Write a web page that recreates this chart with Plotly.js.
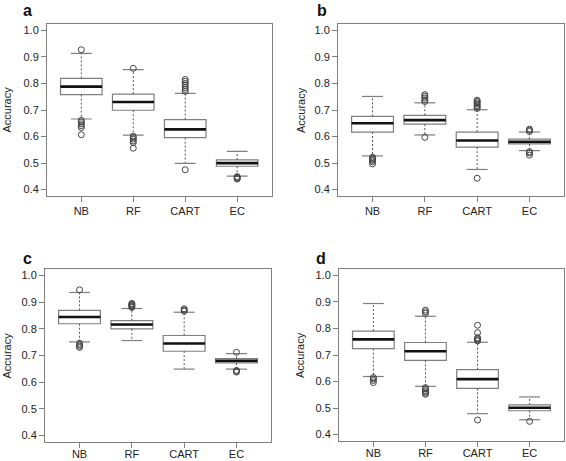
<!DOCTYPE html>
<html>
<head>
<meta charset="utf-8">
<script src="https://cdn.plot.ly/plotly-3.0.1.min.js"></script>
<style>html,body{margin:0;padding:0;background:#fff;}#chart{width:566px;height:461px;}</style>
</head>
<body>
<div id="chart"></div>
<script>
const categories = ['NB', 'RF', 'CART', 'EC'];
const positions = [1, 2, 3, 4];
const yTicks = [0.4, 0.5, 0.6, 0.7, 0.8, 0.9, 1.0];

// Panel a
const aLower  = [0.666, 0.605, 0.499, 0.451];
const aQ1     = [0.758, 0.699, 0.596, 0.488];
const aMedian = [0.788, 0.730, 0.627, 0.500];
const aQ3     = [0.819, 0.760, 0.664, 0.512];
const aUpper  = [0.913, 0.852, 0.763, 0.544];
const aOutliers = [
  [0.927, 0.661, 0.655, 0.648, 0.641, 0.634, 0.607],
  [0.857, 0.601, 0.596, 0.590, 0.583, 0.577, 0.556],
  [0.815, 0.808, 0.800, 0.793, 0.785, 0.778, 0.770, 0.475],
  [0.449, 0.446, 0.443, 0.440]
];

// Panel b
const bLower  = [0.527, 0.606, 0.476, 0.547];
const bQ1     = [0.617, 0.647, 0.560, 0.572];
const bMedian = [0.650, 0.662, 0.585, 0.580];
const bQ3     = [0.676, 0.680, 0.617, 0.590];
const bUpper  = [0.751, 0.727, 0.701, 0.617];
const bOutliers = [
  [0.522, 0.518, 0.514, 0.510, 0.505, 0.497],
  [0.758, 0.752, 0.745, 0.738, 0.732, 0.597],
  [0.737, 0.732, 0.727, 0.722, 0.716, 0.711, 0.706, 0.443],
  [0.628, 0.624, 0.619, 0.543, 0.538, 0.530]
];

// Panel c
const cLower  = [0.751, 0.756, 0.649, 0.649];
const cQ1     = [0.819, 0.800, 0.716, 0.672];
const cMedian = [0.844, 0.816, 0.745, 0.680];
const cQ3     = [0.869, 0.831, 0.775, 0.688];
const cUpper  = [0.936, 0.876, 0.862, 0.707];
const cOutliers = [
  [0.946, 0.746, 0.740, 0.735, 0.730],
  [0.895, 0.892, 0.889, 0.886, 0.883, 0.880],
  [0.875, 0.870, 0.866],
  [0.712, 0.644, 0.641, 0.638]
];

// Panel d
const dLower  = [0.619, 0.582, 0.479, 0.456];
const dQ1     = [0.724, 0.680, 0.574, 0.490];
const dMedian = [0.759, 0.714, 0.609, 0.501];
const dQ3     = [0.790, 0.747, 0.645, 0.512];
const dUpper  = [0.894, 0.846, 0.748, 0.542];
const dOutliers = [
  [0.615, 0.610, 0.604, 0.596],
  [0.869, 0.863, 0.857, 0.577, 0.572, 0.566, 0.561, 0.556, 0.552],
  [0.812, 0.784, 0.765, 0.761, 0.757, 0.753, 0.455],
  [0.450]
];

const panelLabels = ['a', 'b', 'c', 'd'];
const yTitle = 'Accuracy';

const panels = [
  {xa: 'x',  ya: 'y',  lo: aLower, q1: aQ1, med: aMedian, q3: aQ3, hi: aUpper, out: aOutliers},
  {xa: 'x2', ya: 'y2', lo: bLower, q1: bQ1, med: bMedian, q3: bQ3, hi: bUpper, out: bOutliers},
  {xa: 'x3', ya: 'y3', lo: cLower, q1: cQ1, med: cMedian, q3: cQ3, hi: cUpper, out: cOutliers},
  {xa: 'x4', ya: 'y4', lo: dLower, q1: dQ1, med: dMedian, q3: dQ3, hi: dUpper, out: dOutliers}
];

const boxW = 0.8, capHalf = 0.2;
const boxColor = '#7f7f7f';
const traces = [];

panels.forEach(p => {
  // whiskers (dashed)
  const wx = [], wy = [];
  positions.forEach((x, i) => {
    wx.push(x, x, null, x, x, null);
    wy.push(p.q3[i], p.hi[i], null, p.q1[i], p.lo[i], null);
  });
  traces.push({type: 'scatter', mode: 'lines', x: wx, y: wy, xaxis: p.xa, yaxis: p.ya,
    line: {color: '#555', width: 1, dash: '2px,2px'}, hoverinfo: 'skip', showlegend: false});
  // caps
  const cx = [], cy = [];
  positions.forEach((x, i) => {
    cx.push(x - capHalf, x + capHalf, null, x - capHalf, x + capHalf, null);
    cy.push(p.hi[i], p.hi[i], null, p.lo[i], p.lo[i], null);
  });
  traces.push({type: 'scatter', mode: 'lines', x: cx, y: cy, xaxis: p.xa, yaxis: p.ya,
    line: {color: boxColor, width: 1.2}, hoverinfo: 'skip', showlegend: false});
  // boxes
  traces.push({type: 'box', x: positions, q1: p.q1, median: p.med, q3: p.q3,
    lowerfence: p.q1, upperfence: p.q3, width: boxW, whiskerwidth: 0,
    xaxis: p.xa, yaxis: p.ya, fillcolor: '#ffffff',
    line: {color: boxColor, width: 1.2}, boxpoints: false, hoverinfo: 'skip', showlegend: false});
  // medians
  const mx = [], my = [];
  positions.forEach((x, i) => {
    mx.push(x - boxW / 2, x + boxW / 2, null);
    my.push(p.med[i], p.med[i], null);
  });
  traces.push({type: 'scatter', mode: 'lines', x: mx, y: my, xaxis: p.xa, yaxis: p.ya,
    line: {color: '#111', width: 2.6}, hoverinfo: 'skip', showlegend: false});
  // outliers
  const ox = [], oy = [];
  positions.forEach((x, i) => {
    p.out[i].forEach(v => { ox.push(x); oy.push(v); });
  });
  traces.push({type: 'scatter', mode: 'markers', x: ox, y: oy, xaxis: p.xa, yaxis: p.ya,
    marker: {symbol: 'circle-open', size: 6, color: '#444', line: {width: 1}},
    hoverinfo: 'skip', showlegend: false});
});

const W = 566, H = 461;
const font = {family: 'Liberation Sans, Arial, sans-serif', size: 11, color: '#222'};

function xAxis(domain, anchor, standoff) {
  return {domain: domain, anchor: anchor, range: [0.34, 4.66], tickmode: 'array',
    tickvals: positions, ticktext: categories, ticks: 'outside', ticklen: 5,
    ticklabelstandoff: standoff,
    tickcolor: boxColor, showline: true, mirror: true, linecolor: boxColor, linewidth: 1,
    showgrid: false, zeroline: false, tickfont: font, fixedrange: true};
}
function yAxis(domain, anchor) {
  return {domain: domain, anchor: anchor, range: [0.376, 1.024], tickmode: 'array',
    tickvals: yTicks, ticktext: yTicks.map(v => v.toFixed(1)), ticks: 'outside', ticklen: 5,
    tickcolor: boxColor, showline: true, mirror: true, linecolor: boxColor, linewidth: 1,
    showgrid: false, zeroline: false, tickfont: font, fixedrange: true};
}

const px = v => v / W, py = v => 1 - v / H;

const layout = {
  width: W, height: H, margin: {l: 0, r: 0, t: 0, b: 0},
  paper_bgcolor: '#fff', plot_bgcolor: '#fff', showlegend: false, font: font,
  xaxis:  xAxis([px(47), px(271.5)], 'y', 0),
  yaxis:  yAxis([py(196), py(24)], 'x'),
  xaxis2: xAxis([px(338), px(564)], 'y2', 0),
  yaxis2: yAxis([py(196), py(24)], 'x2'),
  xaxis3: xAxis([px(45), px(271)], 'y3', -3),
  yaxis3: yAxis([py(442), py(269)], 'x3'),
  xaxis4: xAxis([px(339), px(564)], 'y4', -3),
  yaxis4: yAxis([py(441), py(269)], 'x4'),
  annotations: [
    {text: '<b>' + panelLabels[0] + '</b>', x: px(27.5), y: py(1)},
    {text: '<b>' + panelLabels[1] + '</b>', x: px(321.5), y: py(1)},
    {text: '<b>' + panelLabels[2] + '</b>', x: px(27.5), y: py(249)},
    {text: '<b>' + panelLabels[3] + '</b>', x: px(321), y: py(249)}
  ].map(a => Object.assign(a, {xref: 'paper', yref: 'paper', showarrow: false, borderpad: 0,
      xanchor: 'center', yanchor: 'top', font: {family: 'Liberation Sans, Arial, sans-serif', size: 16, color: '#111'}}))
   .concat([
    {x: px(6.5), y: py(110)},
    {x: px(301), y: py(110)},
    {x: px(6.5), y: py(356)},
    {x: px(300), y: py(355)}
  ].map(a => Object.assign(a, {text: yTitle, textangle: -90, xref: 'paper', yref: 'paper',
      showarrow: false, xanchor: 'center', yanchor: 'middle', font: font})))
};

Plotly.newPlot('chart', traces, layout, {staticPlot: true, displayModeBar: false});
</script>
</body>
</html>
